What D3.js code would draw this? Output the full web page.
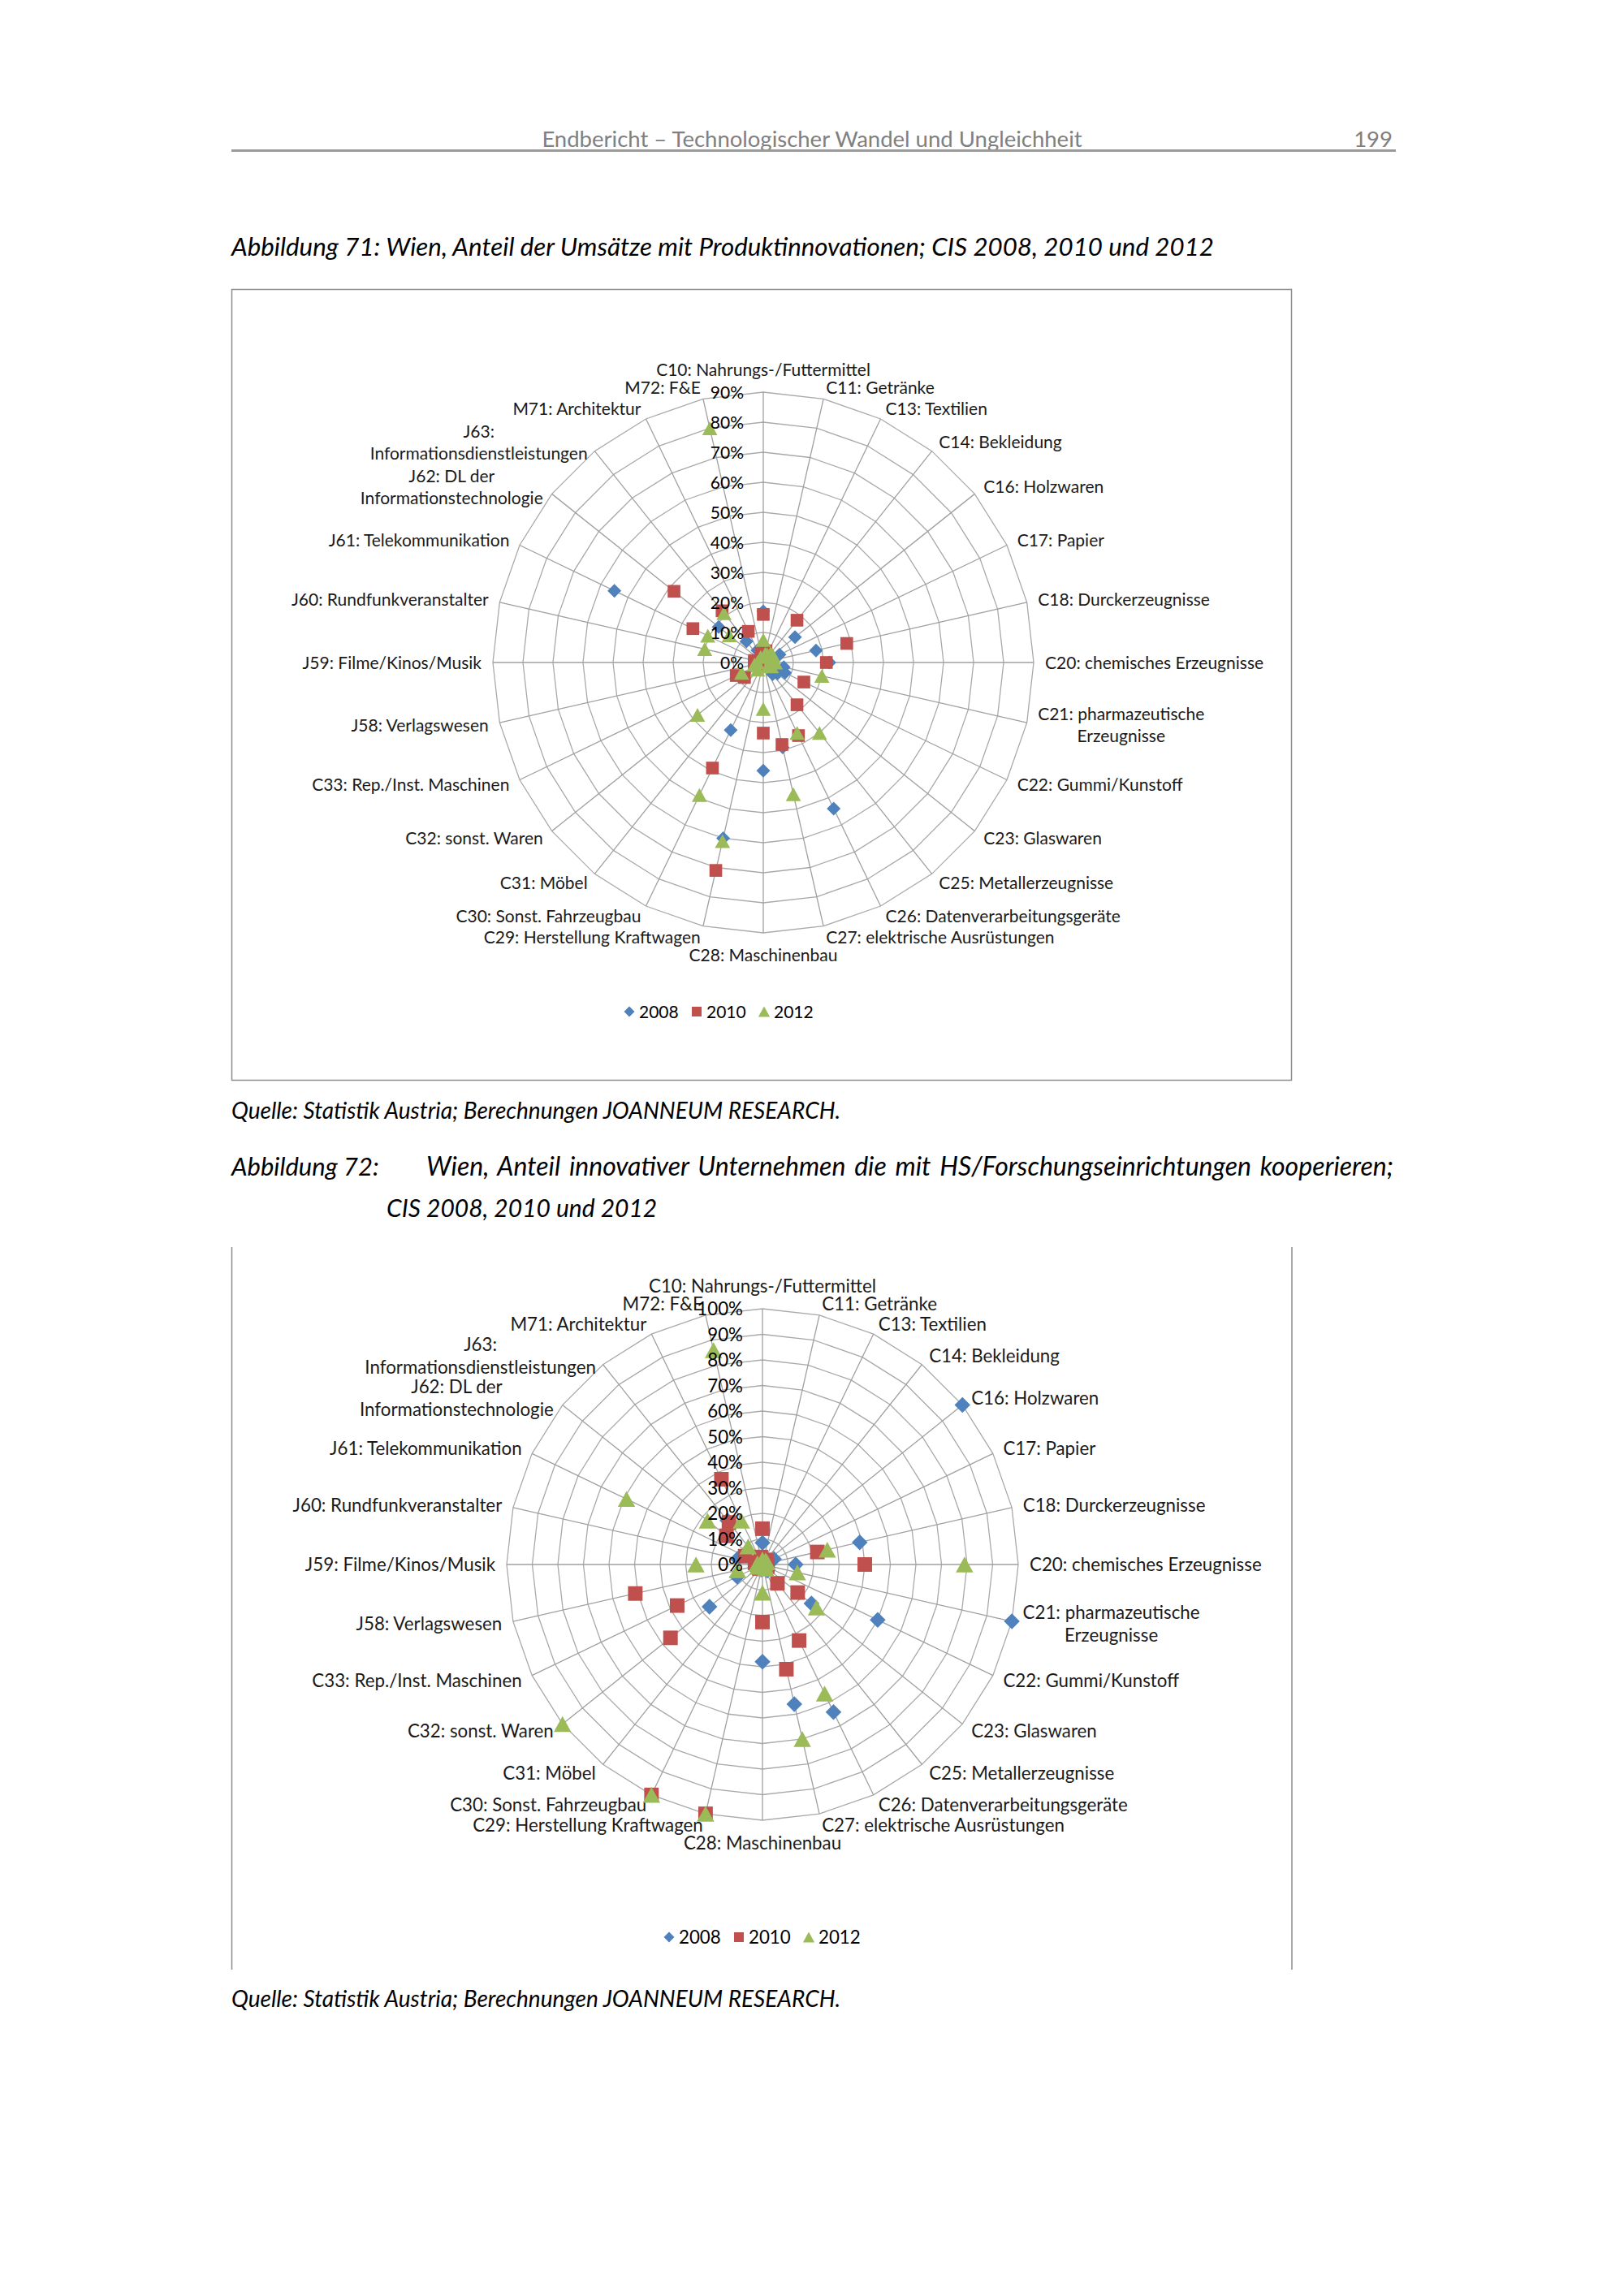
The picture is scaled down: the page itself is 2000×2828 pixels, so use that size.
<!DOCTYPE html>
<html><head><meta charset="utf-8">
<script src="https://cdn.jsdelivr.net/npm/d3@7"></script>
<style>
body{margin:0;background:#fff}
svg text{font-family: Lato, "Open Sans", "DejaVu Sans", sans-serif;}
</style>
</head><body>
<svg id="page" width="2000" height="2828"></svg>
<script>
// ---------------- DATA ----------------
const categories = [
  "C10: Nahrungs-/Futtermittel","C11: Getränke","C13: Textilien","C14: Bekleidung",
  "C16: Holzwaren","C17: Papier","C18: Durckerzeugnisse","C20: chemisches Erzeugnisse",
  "C21: pharmazeutische\nErzeugnisse","C22: Gummi/Kunstoff","C23: Glaswaren","C25: Metallerzeugnisse",
  "C26: Datenverarbeitungsgeräte","C27: elektrische Ausrüstungen","C28: Maschinenbau",
  "C29: Herstellung Kraftwagen","C30: Sonst. Fahrzeugbau","C31: Möbel","C32: sonst. Waren",
  "C33: Rep./Inst. Maschinen","J58: Verlagswesen","J59: Filme/Kinos/Musik","J60: Rundfunkveranstalter",
  "J61: Telekommunikation","J62: DL der\nInformationstechnologie","J63:\nInformationsdienstleistungen",
  "M71: Architektur","M72: F&E"
];
const seriesNames = ["2008","2010","2012"];

// Abbildung 71 – Anteil der Umsätze mit Produktinnovationen (%)
const fig71_2008 = [17,1,2,1,13.5,6,18,22,7,8,6,5,54,29,36,60,25,2,1,2,1,1,2,55,19,9,4.5,2];
const fig71_2010 = [16,4,1,18,2,1,28.5,21,2,15,2,18,27,28,23.5,71,39,1,8,10,2,3,3,26,38,22,11.5,3];
const fig71_2012 = [7.5,3,3,4,4,3,3,4,20,3,2,30,26,45,15.5,61,49,3,28,8,3,2,20,20.5,14.5,21,2,80];
const ticks71 = [0,10,20,30,40,50,60,70,80,90];

// Abbildung 72 – Anteil innovativer Unternehmen mit HS/Forschungskooperation (%)
const fig72_2008 = [8.5,2,1,1,100,5,39,13,100,50,24.5,3,64,56,38,2,2,1,26.5,11,2,1,10,2,3,22,2,2];
const fig72_2010 = [14,1,2,1,2,1,22,40,2,2,17.6,9.4,33,42,22.5,100,100,2,46,37,51,2,3,7.5,18,21,37,3];
const fig72_2012 = [2,1,1,2,1,2,26,79,14,1,27,2,56,70,11,100,100,1,100,2,10,26,2,59,27.5,9,19,86];
const ticks72 = [0,10,20,30,40,50,60,70,80,90,100];

const seriesColors = ["#4F81BD","#C0504D","#9BBB59"];
const seriesShapes = ["diamond","square","triangle"];

// ---------------- PAGE ----------------
const svg = d3.select("#page");
svg.append("rect").attr("width",2000).attr("height",2828).attr("fill","#fff");

// header
svg.append("text").attr("x",1000).attr("y",181).attr("text-anchor","middle")
  .attr("font-size",27.5).attr("fill","#808080").text("Endbericht – Technologischer Wandel und Ungleichheit");
svg.append("text").attr("x",1715).attr("y",181).attr("text-anchor","end")
  .attr("font-size",27.5).attr("fill","#808080").text("199");
svg.append("line").attr("x1",285).attr("x2",1719).attr("y1",185.5).attr("y2",185.5)
  .attr("stroke","#9a9a9a").attr("stroke-width",3);

function italicText(x,y,t,size){
  return svg.append("text").attr("x",x).attr("y",y).attr("font-size",size)
    .attr("font-style","italic").attr("fill","#000").text(t);
}
italicText(285,315,"Abbildung 71: Wien, Anteil der Umsätze mit Produktinnovationen; CIS 2008, 2010 und 2012",31.3);
italicText(285,1378,"Quelle: Statistik Austria; Berechnungen JOANNEUM RESEARCH.",28);
italicText(285,1448,"Abbildung 72:",31);
const just = italicText(525,1448,"Wien, Anteil innovativer Unternehmen die mit HS/Forschungseinrichtungen kooperieren;",32);
{
  const len = just.node().getComputedTextLength();
  const spaces = just.text().split(" ").length - 1;
  const target = 1716 - 525;
  if (len < target) just.attr("word-spacing", (target - len)/spaces);
  else just.attr("textLength", target).attr("lengthAdjust","spacingAndGlyphs");
}
italicText(476,1499,"CIS 2008, 2010 und 2012",30);
italicText(285,2472,"Quelle: Statistik Austria; Berechnungen JOANNEUM RESEARCH.",28);

// chart frames
svg.append("rect").attr("x",285.5).attr("y",356.5).attr("width",1305).attr("height",974)
  .attr("fill","none").attr("stroke","#8c8c8c").attr("stroke-width",1.5);
svg.append("line").attr("x1",285.5).attr("x2",285.5).attr("y1",1536).attr("y2",2426)
  .attr("stroke","#8c8c8c").attr("stroke-width",1.5);
svg.append("line").attr("x1",1591).attr("x2",1591).attr("y1",1536).attr("y2",2426)
  .attr("stroke","#8c8c8c").attr("stroke-width",1.5);

function shapePath(shape, s){
  if(shape==="diamond"){const a=s/2; return `M0,${-a}L${a},0L0,${a}L${-a},0Z`;}
  if(shape==="square"){const a=s*0.46; return `M${-a},${-a}H${a}V${a}H${-a}Z`;}
  const w=s*0.55, h=s*0.5; return `M0,${-h}L${w},${h}L${-w},${h}Z`;
}

function drawRadar(cfg){
  const g = svg.append("g").attr("transform",`translate(${cfg.cx},${cfg.cy})`);
  const angle = d3.scaleBand().domain(categories).range([0, 2*Math.PI]).paddingInner(0).paddingOuter(0);
  const r = d3.scaleLinear().domain([0, cfg.max]).range([0, cfg.R]);
  const ang = c => angle(c);

  // rings (polygons)
  const ring = d3.lineRadial().angle(d=>ang(d)).curve(d3.curveLinearClosed);
  cfg.ticks.forEach(t=>{
    if(t===0) return;
    g.append("path").attr("d", ring.radius(r(t))(categories))
      .attr("fill","none").attr("stroke","#a9a9a9").attr("stroke-width",1.3);
  });
  // spokes
  categories.forEach(c=>{
    const a = ang(c);
    g.append("line").attr("x1",0).attr("y1",0)
      .attr("x2", r(cfg.max)*Math.sin(a)).attr("y2", -r(cfg.max)*Math.cos(a))
      .attr("stroke","#a0a0a0").attr("stroke-width",1.3);
  });

  // category labels
  categories.forEach(c=>{
    const a = ang(c), s = Math.sin(a), co = Math.cos(a);
    const rr = cfg.R + cfg.gap;
    const px = rr*s, py = -rr*co;
    const lines = c.split("\n");
    const t = g.append("text").attr("font-size",cfg.fs).attr("fill","#1a1a1a").attr("text-anchor","middle");
    const tsp = lines.map(l=>t.append("tspan").text(l));
    const wMax = d3.max(tsp, d=>d.node().getComputedTextLength());
    const h = lines.length*cfg.lh;
    let left, top;
    if(Math.abs(s)<0.01){
      left = px - wMax/2;
      top = co>0 ? py - h : py;
    } else {
      left = s>0 ? px : px - wMax;
      top = py - h/2;
    }
    tsp.forEach((d,i)=>d.attr("x", left + wMax/2).attr("y", top + cfg.lh*(i+0.5) + cfg.fs*0.36));
  });

  // markers
  const series = cfg.series;
  series.forEach((vals,si)=>{
    g.append("g").selectAll("path").data(categories.map((c,i)=>({c, v: vals[i]})))
      .join("path")
      .attr("transform", d=>`translate(${r(d.v)*Math.sin(ang(d.c))},${-r(d.v)*Math.cos(ang(d.c))})`)
      .attr("d", shapePath(seriesShapes[si], cfg.ms))
      .attr("fill", seriesColors[si]);
  });

  // tick labels on top
  cfg.ticks.forEach(t=>{
    g.append("text").attr("x",-24).attr("y", -r(t) + cfg.fs*0.36)
      .attr("text-anchor","end").attr("font-size",cfg.fs).attr("fill","#000").text(t+"%");
  });

  // legend
  const lg = svg.append("g").attr("transform",`translate(0,${cfg.legendY})`);
  seriesNames.forEach((n,i)=>{
    const x = cfg.legendX + i*cfg.legendStep;
    lg.append("path").attr("transform",`translate(${x},0)`)
      .attr("d", shapePath(seriesShapes[i], 13)).attr("fill", seriesColors[i]);
    lg.append("text").attr("x", x+12).attr("y", cfg.fs*0.36).attr("font-size",cfg.fs).attr("fill","#000").text(n);
  });
}

drawRadar({cx:940, cy:816, R:333, max:90, ticks:ticks71, gap:14, fs:21, lh:27, ms:17,
  series:[fig71_2008, fig71_2010, fig71_2012], legendY:1246, legendX:775, legendStep:83});
drawRadar({cx:939, cy:1927, R:315, max:100, ticks:ticks72, gap:14, fs:22.3, lh:28, ms:19.5,
  series:[fig72_2008, fig72_2010, fig72_2012], legendY:2386, legendX:824, legendStep:86});
</script>
</body></html>
